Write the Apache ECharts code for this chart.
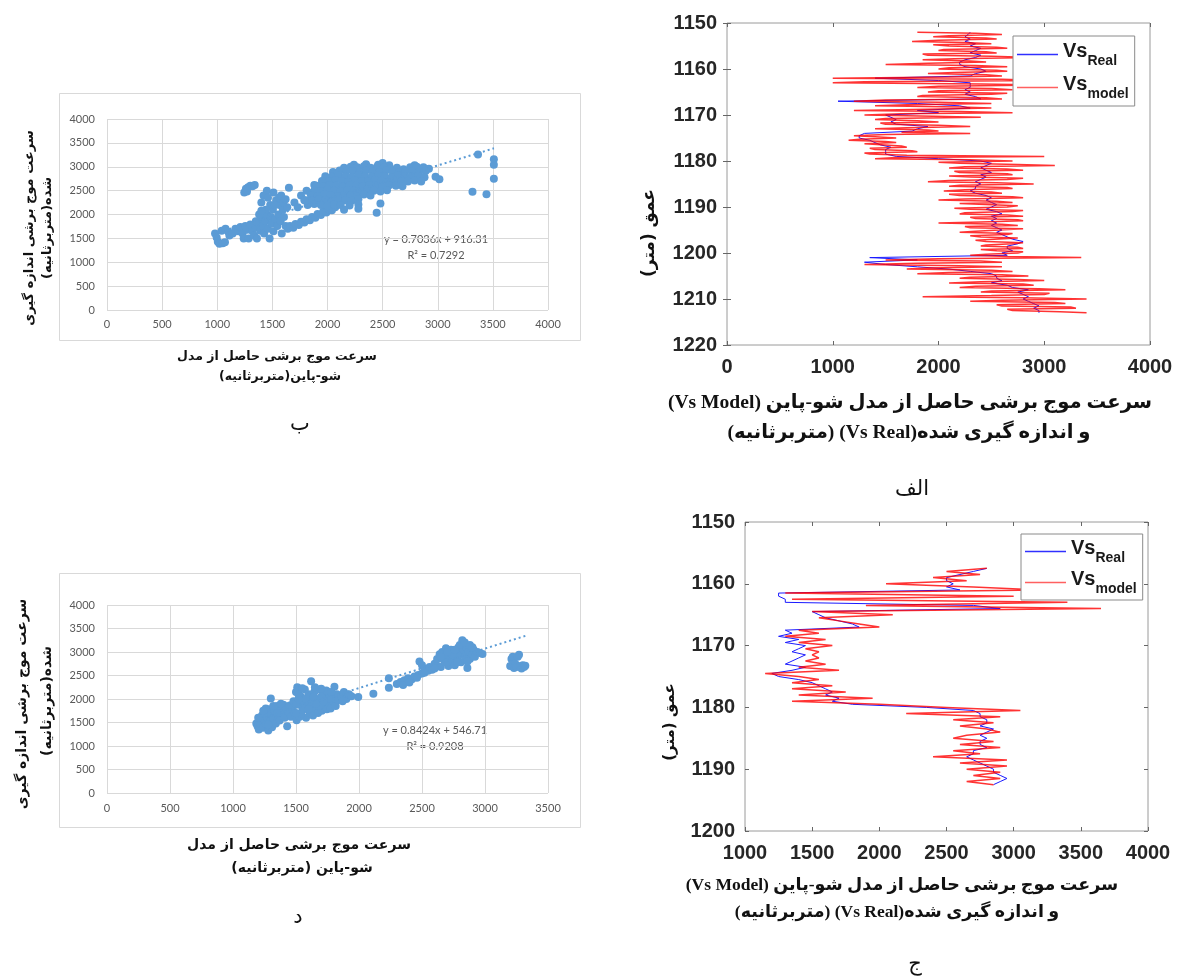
<!DOCTYPE html>
<html><head><meta charset="utf-8">
<script src="https://cdn.jsdelivr.net/npm/echarts@6/dist/echarts.min.js"></script>
<style>html,body{margin:0;padding:0;background:#fff}#c{width:1199px;height:977px}</style>
</head><body><div id="c"></div>
<script>
// ---------- Panel الف (depth log, top right) ----------
const depthA = [1152,1152.5,1153,1153.5,1154,1154.5,1155,1155.5,1156,1156.5,
1157,1157.5,1158,1158.5,1159,1159.5,1160,1160.5,1161,1161.5,
1162,1162.5,1163,1163.5,1164,1164.5,1165,1165.5,1166,1166.5,
1167,1167.5,1168,1168.5,1169,1169.5,1170,1170.5,1171,1171.5,
1172,1172.5,1173,1173.5,1174,1174.5,1175,1175.5,1176,1176.5,
1177,1177.5,1178,1178.5,1179,1179.5,1180,1180.5,1181,1181.5,
1182,1182.5,1183,1183.5,1184,1184.5,1185,1185.5,1186,1186.5,
1187,1187.5,1188,1188.5,1189,1189.5,1190,1190.5,1191,1191.5,
1192,1192.5,1193,1193.5,1194,1194.5,1195,1195.5,1196,1196.5,
1197,1197.5,1198,1198.5,1199,1199.5,1200,1200.5,1201,1201.5,
1202,1202.5,1203,1203.5,1204,1204.5,1205,1205.5,1206,1206.5,
1207,1207.5,1208,1208.5,1209,1209.5,1210,1210.5,1211,1211.5,
1212,1212.5,1213];
const realA = [2300,2280,2250,2300,2250,2350,2300,2400,2350,2300,
2400,2350,2250,2200,2200,2250,2400,2450,2350,2300,
1400,2000,2300,2300,2300,2250,2300,2250,2350,2400,
1050,1800,2200,2300,1800,2000,1500,1550,1600,1550,
1600,1900,1800,1750,1300,1250,1250,1350,1400,1450,
1550,1500,1500,1500,1600,2000,2400,2500,2450,2400,
2450,2500,2400,2450,2400,2350,2400,2350,2350,2300,
2350,2450,2500,2450,2500,2550,2500,2450,2550,2600,
2500,2550,2500,2550,2500,2550,2600,2550,2600,2650,
2700,2800,2750,2650,2650,2700,2600,2650,1350,1800,
1300,1500,1800,2100,2300,2500,2550,2550,2600,2500,
2650,2700,2850,2750,2800,2850,2800,2850,2900,2950,
2900,2950,2950];
const depthModelA = [1152,1152.25,1152.5,1152.75,1153,1153.25,1153.5,1153.75,1154,1154.25,1154.5,1154.75,
1155,1155.25,1155.5,1155.75,1156,1156.25,1156.5,1156.75,1157,1157.25,1157.5,1157.75,
1158,1158.25,1158.5,1158.75,1159,1159.25,1159.5,1159.75,1160,1160.25,1160.5,1160.75,
1161,1161.25,1161.5,1161.75,1162,1162.25,1162.5,1162.75,1163,1163.25,1163.5,1163.75,
1164,1164.25,1164.5,1164.75,1165,1165.25,1165.5,1165.75,1166,1166.25,1166.5,1166.75,
1167,1167.25,1167.5,1167.75,1168,1168.25,1168.5,1168.75,1169,1169.25,1169.5,1169.75,
1170,1170.25,1170.5,1170.75,1171,1171.25,1171.5,1171.75,1172,1172.25,1172.5,1172.75,
1173,1173.25,1173.5,1173.75,1174,1174.25,1174.5,1174.75,1175,1175.25,1175.5,1175.75,
1176,1176.25,1176.5,1176.75,1177,1177.25,1177.5,1177.75,1178,1178.25,1178.5,1178.75,
1179,1179.25,1179.5,1179.75,1180,1180.25,1180.5,1180.75,1181,1181.25,1181.5,1181.75,
1182,1182.25,1182.5,1182.75,1183,1183.25,1183.5,1183.75,1184,1184.25,1184.5,1184.75,
1185,1185.25,1185.5,1185.75,1186,1186.25,1186.5,1186.75,1187,1187.25,1187.5,1187.75,
1188,1188.25,1188.5,1188.75,1189,1189.25,1189.5,1189.75,1190,1190.25,1190.5,1190.75,
1191,1191.25,1191.5,1191.75,1192,1192.25,1192.5,1192.75,1193,1193.25,1193.5,1193.75,
1194,1194.25,1194.5,1194.75,1195,1195.25,1195.5,1195.75,1196,1196.25,1196.5,1196.75,
1197,1197.25,1197.5,1197.75,1198,1198.25,1198.5,1198.75,1199,1199.25,1199.5,1199.75,
1200,1200.25,1200.5,1200.75,1201,1201.25,1201.5,1201.75,1202,1202.25,1202.5,1202.75,
1203,1203.25,1203.5,1203.75,1204,1204.25,1204.5,1204.75,1205,1205.25,1205.5,1205.75,
1206,1206.25,1206.5,1206.75,1207,1207.25,1207.5,1207.75,1208,1208.25,1208.5,1208.75,
1209,1209.25,1209.5,1209.75,1210,1210.25,1210.5,1210.75,1211,1211.25,1211.5,1211.75,
1212,1212.25,1212.5,1212.75,1213];
const modelA = [1800,2350,2600,2100, 1950,2450,2550,2000, 1750,2250,2500,1950,
2100,2550,2650,2050, 2000,2450,2550,1850, 1900,2500,2900,2150,
1850,2300,2450,1900, 1500,2350,2650,2100, 2000,2550,2650,2150,
1900,2450,2600,2100, 1000,2600,3000,1300, 1000,2400,3000,2000,
1800,2500,2700,2000, 1900,2650,2500,1850, 1800,2450,2600,1500,
1200,2000,2500,1700, 1400,2200,2500,1900, 1200,2200,2700,1650,
1300,1950,2400,1500, 1400,1800,2000,1450, 1500,2000,2300,1700,
1400,1900,2000,1650, 2300,1500,1200,1400, 1600,1250,1150,1500,
1600,1300,1300,1650, 1700,1350,1400,1750, 1800,1300,1350,1700,
3000,1600,1400,2300, 2700,2000,2200,2750, 3100,2250,2100,2650,
2800,2150,2200,2650, 2700,2100,2300,2800, 2650,2100,1900,2550,
2900,2200,2100,2650, 2700,2250,2050,2500, 2600,2100,2200,2700,
2800,2250,2000,2550, 2700,2200,2200,2750, 2650,2150,2300,2800,
2700,2250,2200,2650, 2800,2300,2350,2750, 2800,2400,2000,2600,
2750,2250,2300,2800, 2800,2350,2200,2700, 2650,2300,2400,2750,
2750,2350,2450,2800, 2700,2450,2400,2750, 2800,2400,2550,2800,
2750,2450,2300,2650, 3350,2000,1500,2400, 2600,1800,1300,2200,
2600,1900,1700,2500, 2700,2100,1800,2600, 2850,2300,2200,2750,
3000,2400,2100,2800, 2900,2350,2200,2950, 3200,2500,2400,3050,
3000,2500,1850,2800, 3400,2600,2300,3100, 3200,2550,2600,3250,
3300,2650,2700,3150, 3400];
const depthTicksA = [1150,1160,1170,1180,1190,1200,1210,1220];
const velTicksA = [0,1000,2000,3000,4000];

// ---------- Panel ج (depth log, bottom right) ----------
const depthC = [1157.5,1158,1158.5,1159,1159.5,1160,1160.5,1161,1161.5,1162,
1162.5,1163,1163.5,1164,1164.5,1165,1165.5,1166,1166.5,1167,
1167.5,1168,1168.5,1169,1169.5,1170,1170.5,1171,1171.5,1172,
1172.5,1173,1173.5,1174,1174.5,1175,1175.5,1176,1176.5,1177,
1177.5,1178,1178.5,1179,1179.5,1180,1180.5,1181,1181.5,1182,
1182.5,1183,1183.5,1184,1184.5,1185,1185.5,1186,1186.5,1187,
1187.5,1188,1188.5,1189,1189.5,1190,1190.5,1191,1191.5,1192,
1192.5];
const realC = [2800,2700,2600,2500,2500,2550,2500,2600,1250,1250,
1300,1300,2700,2900,1500,1550,1600,1700,1800,1850,
1300,1350,1250,1400,1300,1450,1400,1350,1450,1400,
1350,1300,1450,1350,1200,1250,1400,1500,1550,1600,
1650,1600,1700,1650,1800,2350,2700,2750,2750,2800,
2800,2750,2850,2800,2750,2800,2750,2750,2800,2700,
2700,2650,2700,2750,2800,2850,2850,2900,2950,2900,
2850];
const modelC = [2800,2500,2750,2400,2650,2050,2700,3200,1300,3000,
1350,3400,1900,3650,1500,2100,1550,1700,1850,2000,
1400,1550,1300,1600,1400,1650,1450,1550,1500,1550,
1450,1600,1400,1700,1150,1400,1550,1350,1650,1350,
1750,1400,1950,1350,2000,2500,3050,2200,2900,2550,
2850,2600,2800,2900,2650,2550,2850,2600,2900,2550,
2750,2400,2950,2600,2950,2650,2900,2700,2900,2650,
2850];
const depthTicksC = [1150,1160,1170,1180,1190,1200];
const velTicksC = [1000,1500,2000,2500,3000,3500,4000];

// ---------- Panel ب (scatter, top left): [Vs model, Vs measured] ----------
const scatterB = [
[980,1600],[995,1520],[1005,1430],[1020,1390],[1050,1400],[1070,1420],[1040,1660],[1075,1700],[1100,1640],[1110,1560],
[1140,1600],[1165,1700],[1190,1650],[1210,1740],[1230,1600],[1240,1500],[1255,1760],[1270,1680],[1285,1500],[1300,1790],
[1320,1650],[1335,1560],[1350,1730],[1360,1500],[1375,1810],[1390,1660],[1405,1900],[1415,1760],[1425,1600],[1440,1860],
[1450,2000],[1460,1700],[1475,1500],[1485,1950],[1495,1810],[1505,2100],[1510,1650],[1525,1900],[1535,2300],[1545,1760],
[1555,2000],[1565,2200],[1575,1860],[1585,1600],[1595,2100],[1605,1950],[1620,1760],[1635,2150],[1400,2250],[1420,2400],
[1450,2500],[1510,2460],[1480,2200],[1440,2100],[1380,2000],[1350,1860],[1400,2080],[1460,2350],[1520,2200],[1560,2350],
[1600,2250],[1580,2400],[1620,2320],
[1245,2460],[1260,2540],[1280,2570],[1300,2600],[1320,2590],[1340,2620],[1270,2480],[1650,2560],
[1640,1700],[1660,1760],[1690,1720],[1710,1800],[1740,1780],[1760,1850],[1790,1830],[1810,1900],[1840,1880],[1860,1950],
[1890,1930],[1910,2010],[1940,1990],[1960,2060],[1990,2040],[2010,2110],[2040,2090],[2070,2150],
[1700,2250],[1730,2150],[1760,2400],[1790,2300],[1820,2200],[1850,2450],[1870,2350],[1890,2500],[1900,2250],[1930,2600],
[1950,2400],[1880,2620],[1810,2500],
[2240,3040],[2350,3050],[2460,3040],[2500,3080],[2560,3030],[2790,3030],
[2150,2980],[2210,3000],[2270,2990],[2330,3010],[2390,2980],[2450,3000],[2510,2990],[2570,2960],[2630,2980],[2690,2950],
[2750,2990],[2810,3000],[2870,2990],[2920,2960],
[2050,2890],[2110,2920],[2170,2900],[2230,2910],[2290,2880],[2350,2920],[2410,2900],[2470,2890],[2530,2920],[2590,2900],
[2650,2880],[2710,2910],[2770,2900],[2830,2880],[2890,2910],
[1980,2800],[2040,2790],[2100,2820],[2160,2800],[2220,2780],[2280,2820],[2340,2800],[2400,2790],[2460,2810],[2520,2800],
[2580,2780],[2640,2820],[2700,2800],[2760,2790],[2820,2810],[2880,2780],
[1950,2700],[2010,2690],[2070,2720],[2130,2700],[2190,2680],[2250,2710],[2310,2700],[2370,2690],[2430,2720],[2490,2700],
[2550,2680],[2610,2710],[2670,2700],[2730,2690],[2790,2710],[2850,2690],
[1900,2600],[1960,2590],[2020,2620],[2080,2600],[2140,2580],[2200,2610],[2260,2600],[2320,2590],[2380,2620],[2440,2600],
[2500,2580],[2560,2610],[2620,2600],[2680,2590],
[1880,2500],[1940,2490],[2000,2520],[2060,2500],[2120,2480],[2180,2510],[2240,2500],[2300,2490],[2360,2520],[2420,2500],
[2480,2480],[2540,2510],
[1850,2400],[1910,2390],[1970,2420],[2030,2400],[2090,2380],[2150,2410],[2210,2400],[2270,2390],[2330,2420],[2390,2400],
[1800,2300],[1860,2290],[1920,2320],[1980,2300],[2040,2280],[2100,2310],[2160,2300],[2220,2290],[2280,2320],
[1880,2220],[1940,2200],[2000,2180],[2060,2210],[2120,2200],[2200,2190],[2280,2210],
[2150,2100],[2280,2120],[2446,2035],[2480,2230],[2980,2790],[3015,2740],[3315,2475],[3365,3255],[3442,2425],[3509,3155],
[3509,3040],[3509,2750]
];
const trendB = {slope: 0.7036, intercept: 916.31, r2: '0.7292', xFrom: 980, xTo: 3510};
const ticksB = [0,500,1000,1500,2000,2500,3000,3500,4000];

// ---------- Panel د (scatter, bottom left) ----------
const scatterD = [
[1185,1480],[1195,1420],[1205,1350],[1210,1560],[1220,1470],[1230,1650],[1240,1390],[1250,1540],[1255,1720],[1265,1460],
[1270,1610],[1280,1330],[1290,1780],[1295,1520],[1305,1680],[1310,1400],[1320,1590],[1330,1750],[1340,1480],[1350,1850],
[1360,1620],[1370,1540],[1380,1780],[1390,1700],[1400,1880],[1410,1600],[1420,1800],[1430,1420],[1440,1720],[1450,1860],
[1300,2010],[1260,1800],[1320,1850],[1200,1600],[1240,1750],[1280,1450],[1350,1700],[1380,1900],
[1460,1620],[1470,1800],[1480,1950],[1490,1700],[1500,2150],[1505,1550],[1510,2250],[1520,1880],[1530,1620],[1540,2050],
[1550,1750],[1560,1950],[1570,2200],[1580,1600],[1590,1850],[1600,2100],[1610,1700],[1620,2380],[1625,1950],[1635,1650],
[1645,2150],[1655,1800],[1665,2000],[1675,1700],[1685,2200],[1695,1900],[1705,1750],[1715,2100],[1725,1850],[1735,2000],
[1745,1780],[1755,2150],[1765,1900],[1775,1800],[1785,2050],[1795,1950],[1805,2260],[1815,1850],[1825,2100],[1835,1980],
[1500,1900],[1520,2100],[1560,1800],[1580,2000],[1620,1900],[1640,2050],[1680,1850],[1700,2050],[1740,2180],[1760,2000],
[1540,1680],[1600,1780],[1660,1900],[1720,1950],[1780,2150],[1520,2000],[1550,2230],[1500,1700],[1700,2220],[1650,2250],
[1860,2050],[1880,2150],[1900,2000],[1920,2100],[1940,2060],[1870,1950],[1994,2040],[2114,2110],[2237,2240],[2237,2440],
[2300,2320],[2330,2360],[2360,2400],[2390,2440],[2420,2420],[2440,2480],[2470,2510],[2500,2540],[2520,2560],[2550,2600],
[2580,2620],[2350,2300],[2400,2350],[2460,2450],[2480,2800],[2500,2720],[2520,2640],[2560,2680],[2600,2720],
[2600,2750],[2620,2850],[2640,2950],[2650,2680],[2660,3000],[2680,2780],[2690,3080],[2700,2900],[2710,2700],[2720,2980],
[2730,3050],[2740,2820],[2750,2920],[2760,2720],[2770,3000],[2780,2860],[2790,3100],[2800,2950],[2810,2780],[2820,3250],
[2825,3150],[2830,3050],[2840,2900],[2850,3100],[2860,2660],[2870,3000],[2880,2850],[2890,3080],[2900,2950],[2910,3050],
[2920,2900],[2940,3000],[2960,2980],[2980,2960],[2620,2700],[2660,2860],[2700,2780],[2740,2950],[2780,2780],[2800,3150],
[2840,3200],[2860,2800],[2880,3150],[2900,3100],[2700,3000],[2760,3050],[2650,2900],[2600,2650],
[3200,2700],[3210,2850],[3220,2900],[3230,2660],[3240,2750],[3250,2680],[3260,2900],[3270,2940],[3280,2700],[3290,2650],
[3300,2720],[3310,2680],[3320,2710]
];
const trendD = {slope: 0.8424, intercept: 546.71, r2: '0.9208', xFrom: 1185, xTo: 3320};
const ticksDx = [0,500,1000,1500,2000,2500,3000,3500];
const ticksDy = [0,500,1000,1500,2000,2500,3000,3500,4000];

// ---------- texts ----------
const T = {
  yMeasured1: 'سرعت موج برشی اندازه گیری',
  yMeasured2: 'شده(متربرثانیه)',
  xModel1: 'سرعت موج برشی حاصل از مدل',
  xModelB2: 'شو-پاین(متربرثانیه)',
  xModelD2: 'شو-پاین (متربرثانیه)',
  depth: 'عمق (متر)',
  logX1: 'سرعت موج برشی حاصل از مدل شو-پاین (Vs Model)',
  logX2: 'و اندازه گیری شده(Vs Real) (متربرثانیه)',
  labA: 'الف', labB: 'ب', labC: 'ج', labD: 'د'
};
const rtl = s => '\u202B' + s + '\u202C';

const zip = (v, d) => v.map((x, i) => [x, d[i]]);
const trendLine = t => [[t.xFrom, t.slope * t.xFrom + t.intercept], [t.xTo, t.slope * t.xTo + t.intercept]];
const eqText = t => 'y = ' + t.slope.toFixed(4) + 'x + ' + t.intercept.toFixed(2);
const plain = v => String(v);

const chart = echarts.init(document.getElementById('c'), null, {renderer: 'canvas'});

const excelLabel = {color: '#595959', fontSize: 11, fontFamily: 'Lato, "Open Sans", sans-serif', formatter: plain};
const excelX = (gi, ticks, margin) => ({
  gridIndex: gi, type: 'value', min: ticks[0], max: ticks[ticks.length - 1], interval: ticks[1] - ticks[0],
  axisLine: {show: false}, axisTick: {show: false},
  splitLine: {show: true, lineStyle: {color: '#D9D9D9', width: 1}},
  axisLabel: Object.assign({margin: margin}, excelLabel)
});
const matFont = {fontSize: 20, fontWeight: 'bold', color: '#262626', fontFamily: '"Liberation Sans", Arial, sans-serif', formatter: plain};
const matAxis = (gi, ticks, pos, showLabel, inverse, margin) => ({
  gridIndex: gi, type: 'value', position: pos, inverse: inverse,
  min: ticks[0], max: ticks[ticks.length - 1], interval: ticks[1] - ticks[0],
  axisLine: {show: false},
  axisTick: {show: true, inside: true, length: 4, lineStyle: {color: '#666', width: 1}},
  splitLine: {show: false},
  axisLabel: Object.assign({show: showLabel, margin: margin}, matFont)
});

const legendRich = {
  b: {fontSize: 20, fontWeight: 'bold', color: '#1a1a1a', fontFamily: '"Liberation Sans", Arial, sans-serif', padding: [0, 0, 7, 0]},
  s: {fontSize: 14, fontWeight: 'bold', color: '#1a1a1a', fontFamily: '"Liberation Sans", Arial, sans-serif', padding: [13, 0, 0, 0]}
};
const legendFmt = n => n === 'VsReal' ? '{b|Vs}{s|Real}' : '{b|Vs}{s|model}';
const mkLegend = (left, top, gap, pad) => ({
  orient: 'vertical', left: left, top: top, data: ['VsReal', 'Vsmodel'],
  icon: 'rect', itemWidth: 41, itemHeight: 1.5, itemGap: gap, padding: pad,
  borderColor: '#8a8a8a', borderWidth: 1, backgroundColor: '#fff',
  formatter: legendFmt, textStyle: {rich: legendRich}, selectedMode: false
});

const persBold = (size) => 'bold ' + size + 'px "DejaVu Sans", sans-serif';
const mixBold = (size) => 'bold ' + size + 'px "Liberation Serif", "DejaVu Sans", serif';
const txt = (x, y, s, font, rot, color) => ({
  type: 'text', x: x, y: y, rotation: rot || 0, silent: true,
  style: {text: rtl(s), font: font, fill: color || '#111', align: 'center', verticalAlign: 'middle'}
});
const eq = (x, y, s) => ({type: 'text', x: x, y: y, silent: true,
  style: {text: s, font: '11px Lato, sans-serif', fill: '#595959', align: 'center', verticalAlign: 'middle'}});

const option = {
  animation: false,
  backgroundColor: '#fff',
  grid: [
    {left: 107, top: 119, width: 441, height: 191},
    {left: 107, top: 605, width: 441, height: 188},
    {left: 727, top: 23, width: 423, height: 322, show: true, borderColor: '#9a9a9a', borderWidth: 1, backgroundColor: 'transparent'},
    {left: 745, top: 522, width: 403, height: 309, show: true, borderColor: '#9a9a9a', borderWidth: 1, backgroundColor: 'transparent'}
  ],
  xAxis: [
    excelX(0, ticksB, 9),
    excelX(1, ticksDx, 10),
    matAxis(2, velTicksA, 'bottom', true, false, 12),
    matAxis(2, velTicksA, 'top', false, false, 8),
    matAxis(3, velTicksC, 'bottom', true, false, 12),
    matAxis(3, velTicksC, 'top', false, false, 8)
  ],
  yAxis: [
    excelX(0, ticksB, 12),
    excelX(1, ticksDy, 12),
    matAxis(2, depthTicksA, 'left', true, true, 10),
    matAxis(2, depthTicksA, 'right', false, true, 8),
    matAxis(3, depthTicksC, 'left', true, true, 10),
    matAxis(3, depthTicksC, 'right', false, true, 8)
  ],
  legend: [mkLegend(1013, 36, 6, [5, 6, 5, 4]), mkLegend(1021, 534, 4, [4, 6, 4, 4])],
  series: [
    {type: 'scatter', xAxisIndex: 0, yAxisIndex: 0, data: scatterB, symbolSize: 8, itemStyle: {color: '#5B9BD5', opacity: 1}, silent: true},
    {type: 'line', xAxisIndex: 0, yAxisIndex: 0, data: trendLine(trendB), symbol: 'none', silent: true,
      lineStyle: {color: '#5B9BD5', width: 2, type: [2, 3]}},
    {type: 'scatter', xAxisIndex: 1, yAxisIndex: 1, data: scatterD, symbolSize: 8, itemStyle: {color: '#5B9BD5', opacity: 1}, silent: true},
    {type: 'line', xAxisIndex: 1, yAxisIndex: 1, data: trendLine(trendD), symbol: 'none', silent: true,
      lineStyle: {color: '#5B9BD5', width: 2, type: [2, 3]}},
    {name: 'VsReal', type: 'line', xAxisIndex: 2, yAxisIndex: 2, data: zip(realA, depthA), symbol: 'none', silent: true,
      itemStyle: {color: '#3030FF'}, lineStyle: {color: '#1a1aff', width: 1}},
    {name: 'Vsmodel', type: 'line', xAxisIndex: 2, yAxisIndex: 2, data: zip(modelA, depthModelA), symbol: 'none', silent: true,
      itemStyle: {color: '#FF6060'}, lineStyle: {color: '#FF0000', width: 1.5, opacity: 0.8}},
    {name: 'VsReal', type: 'line', xAxisIndex: 4, yAxisIndex: 4, data: zip(realC, depthC), symbol: 'none', silent: true,
      itemStyle: {color: '#3030FF'}, lineStyle: {color: '#1a1aff', width: 1}},
    {name: 'Vsmodel', type: 'line', xAxisIndex: 4, yAxisIndex: 4, data: zip(modelC, depthC), symbol: 'none', silent: true,
      itemStyle: {color: '#FF6060'}, lineStyle: {color: '#FF0000', width: 1.5, opacity: 0.8}}
  ],
  graphic: [
    {type: 'rect', shape: {x: 59.5, y: 93.5, width: 521, height: 247}, style: {fill: 'none', stroke: '#D9D9D9', lineWidth: 1}, silent: true, z: -1},
    {type: 'rect', shape: {x: 59.5, y: 573.5, width: 521, height: 254}, style: {fill: 'none', stroke: '#D9D9D9', lineWidth: 1}, silent: true, z: -1},
    eq(436, 239, eqText(trendB)),
    eq(436, 255, 'R² = ' + trendB.r2),
    eq(435, 730, eqText(trendD)),
    eq(435, 746, 'R² = ' + trendD.r2),
    // panel ب titles
    txt(30, 228, T.yMeasured1, persBold(13), Math.PI / 2),
    txt(48, 228, T.yMeasured2, persBold(13), Math.PI / 2),
    txt(277, 357, T.xModel1, persBold(12.5)),
    txt(280, 377, T.xModelB2, persBold(12.5)),
    txt(300, 425, T.labB, '21px "DejaVu Sans", serif'),
    // panel د titles
    txt(22, 704, T.yMeasured1, persBold(14), Math.PI / 2),
    txt(47, 701, T.yMeasured2, persBold(14), Math.PI / 2),
    txt(299, 845, T.xModel1, persBold(14)),
    txt(302, 868, T.xModelD2, persBold(14)),
    txt(298, 918, T.labD, '21px "DejaVu Sans", serif'),
    // panel الف titles
    txt(650, 233, T.depth, persBold(17), Math.PI / 2),
    txt(910, 403, T.logX1, mixBold(19.6)),
    txt(909, 433, T.logX2, mixBold(19.6)),
    txt(912, 490, T.labA, '21px "DejaVu Sans", serif'),
    // panel ج titles
    txt(670, 722, T.depth, persBold(15), Math.PI / 2),
    txt(902, 885, T.logX1, mixBold(17.5)),
    txt(897, 912, T.logX2, mixBold(17.5)),
    txt(915, 965, T.labC, '21px "DejaVu Sans", serif')
  ]
};
chart.setOption(option);
</script>
</body></html>
